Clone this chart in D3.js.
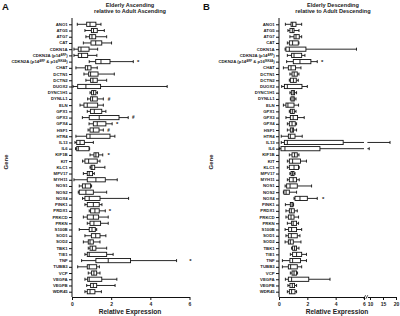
<!DOCTYPE html>
<html>
<head>
<meta charset="utf-8">
<script src="https://cdn.jsdelivr.net/npm/d3@7"></script>
<style>
  body { margin: 0; background: #fff; }
  svg { display: block; font-family: "Liberation Sans", Arial, sans-serif; }
  .axis path, .axis line { stroke: #111; stroke-width: 1; }
  .axis text { fill: #222; font-weight: bold; }
</style>
</head>
<body>
<div id="chart"></div>
<script>
// Gene list (top to bottom)
const genes = ["ANO1", "ATG5", "ATG7", "CAT", "CDKN1A", "CDKN2A (p14^{ARF})",
  "CDKN2A (p14^{ARF} & p16^{INK4A})", "CHAT", "DCTN1", "DCTN2", "DUOX2", "DYNC1H1",
  "DYNLL1", "ELN", "GPX1", "GPX3", "GPX4", "HSF1", "HTR4", "IL13", "IL6", "KIF1B",
  "KIT", "KLC1", "MPV17", "MYH11", "NOS1", "NOS2", "NOX4", "PINK1", "PRDX1", "PRKCD",
  "PRKN", "S100B", "SOD1", "SOD2", "TBK1", "TIE1", "TNF", "TUBB3", "VCP", "VEGFA",
  "VEGFB", "WDR45"];

// [min, q1, median, q3, max] per gene, Elderly vs Adult Ascending
const ascending = [
  [0.27, 0.75, 0.92, 1.22, 1.48], [0.66, 0.99, 1.10, 1.29, 1.65], [0.71, 0.90, 1.02, 1.21, 1.77],
  [0.58, 0.97, 1.21, 1.52, 2.02], [0.10, 0.32, 0.46, 0.87, 1.31], [0.10, 0.32, 0.49, 0.80, 1.27],
  [0.88, 1.21, 1.48, 1.94, 3.13], [0.20, 0.68, 0.80, 0.97, 1.29], [0.61, 0.85, 0.95, 1.33, 2.16],
  [0.71, 0.95, 1.07, 1.29, 1.77], [0.05, 0.29, 0.71, 1.46, 4.86], [0.92, 1.00, 1.10, 1.22, 1.30],
  [0.80, 0.95, 1.05, 1.29, 1.60], [0.41, 0.61, 0.78, 1.31, 1.60], [0.78, 0.94, 1.14, 1.52, 1.73],
  [0.53, 0.88, 1.39, 2.40, 2.87], [0.87, 1.09, 1.29, 1.73, 2.05], [0.82, 0.92, 1.09, 1.38, 1.60],
  [0.20, 0.75, 0.92, 1.94, 2.19], [0.15, 0.24, 0.41, 0.63, 1.09], [0.18, 0.24, 0.32, 0.87, 0.90],
  [0.92, 1.12, 1.22, 1.36, 1.57], [0.54, 0.66, 0.85, 1.29, 1.43], [0.92, 0.97, 1.02, 1.16, 1.68],
  [0.58, 0.78, 0.88, 1.05, 1.14], [0.10, 0.78, 1.22, 1.70, 2.31], [0.37, 0.53, 0.68, 0.95, 1.00],
  [0.32, 0.37, 0.71, 1.09, 1.77], [0.54, 0.66, 0.88, 1.43, 2.89], [0.66, 0.78, 1.09, 1.39, 1.53],
  [0.88, 0.95, 1.17, 1.39, 1.70], [0.58, 0.78, 1.09, 1.36, 1.85], [0.78, 0.92, 1.12, 1.46, 1.85],
  [0.37, 0.88, 1.02, 1.19, 1.26], [0.66, 0.99, 1.21, 1.43, 1.73], [0.58, 0.83, 0.92, 1.09, 1.43],
  [0.83, 0.92, 1.04, 1.22, 1.77], [0.66, 0.78, 0.88, 1.77, 2.10], [0.49, 1.22, 1.85, 2.99, 5.34],
  [0.29, 0.78, 0.88, 1.26, 1.40], [0.83, 1.00, 1.12, 1.26, 1.43], [0.66, 0.80, 0.88, 1.52, 2.29],
  [0.75, 0.95, 1.09, 1.26, 2.20], [0.66, 0.78, 0.92, 1.17, 1.50]
];

// [min, q1, median, q3, max] per gene, Elderly vs Adult Descending
const descending = [
  [0.45, 0.85, 0.96, 1.20, 1.60], [0.63, 0.77, 0.94, 1.06, 1.41], [0.77, 1.06, 1.20, 1.43, 1.60],
  [0.59, 0.73, 0.96, 1.36, 1.41], [0.43, 0.49, 0.73, 1.90, 5.47], [0.59, 0.89, 1.06, 1.60, 1.83],
  [0.54, 1.01, 1.48, 2.25, 2.70], [0.31, 0.66, 0.85, 1.17, 1.55], [0.77, 0.92, 1.07, 1.29, 1.41],
  [0.73, 0.80, 1.02, 1.22, 1.36], [0.19, 0.38, 0.59, 1.62, 2.00], [0.77, 0.87, 1.00, 1.10, 1.24],
  [0.80, 0.85, 0.99, 1.08, 1.20], [0.31, 0.49, 0.63, 1.06, 1.38], [0.73, 0.80, 0.94, 1.08, 1.20],
  [0.49, 0.80, 1.00, 1.31, 1.78], [0.59, 0.73, 0.92, 1.15, 1.24], [0.59, 0.80, 0.94, 1.03, 1.24],
  [0.16, 0.66, 0.80, 1.13, 1.64], [0.16, 0.38, 0.59, 4.53, 17.7], [0.02, 0.14, 0.42, 2.89, 9.7],
  [0.73, 0.92, 1.10, 1.29, 1.41], [0.59, 0.73, 0.96, 1.52, 1.94], [0.59, 0.73, 1.06, 1.38, 1.43],
  [0.77, 0.85, 0.96, 1.06, 1.13], [0.59, 0.73, 1.00, 1.24, 1.43], [0.43, 0.54, 0.78, 1.29, 2.30],
  [0.31, 0.35, 0.50, 0.73, 1.24], [1.06, 1.13, 1.48, 2.00, 2.70], [0.45, 0.80, 0.92, 0.99, 1.03],
  [0.49, 0.73, 0.87, 1.08, 1.29], [0.49, 0.66, 0.85, 1.06, 1.38], [0.59, 0.89, 1.00, 1.24, 1.38],
  [0.43, 0.68, 0.89, 1.24, 1.60], [0.49, 0.66, 0.87, 1.29, 1.48], [0.43, 0.66, 0.80, 1.01, 1.55],
  [0.89, 0.96, 1.10, 1.24, 1.41], [0.80, 0.96, 1.24, 1.60, 1.94], [0.24, 0.77, 0.96, 1.52, 1.94],
  [0.24, 0.66, 0.82, 1.29, 1.60], [0.80, 0.92, 1.06, 1.24, 1.31], [0.45, 0.66, 0.89, 2.10, 3.60],
  [0.63, 0.77, 0.94, 1.10, 1.24], [0.59, 0.73, 0.89, 1.13, 1.24]
];

// significance marks: [gene index, symbol, x value]
const ascMarks = [[6, "*", 3.38], [12, "#", 1.89], [15, "#", 3.13], [16, "*", 2.31],
  [17, "#", 1.87], [21, "*", 1.87], [30, "*", 1.94], [38, "*", 6.05]];
const descMarks = [[6, "*", 3.05], [28, "*", 3.12]];

const ascTicks = [0, 2, 4, 6];
const descTicksLow = [0, 2, 4, 6];
const descTicksHigh = [10, 15, 20];

const W = 400, H = 316;
const svg = d3.select("#chart").append("svg").attr("width", W).attr("height", H);

const y = d3.scalePoint().domain(d3.range(genes.length)).range([24.3, 291.7]);
const axisY = 297;
const boxH = 4.2, capH = 3;

// panel A scale
const xA = d3.scaleLinear().domain([0, 6]).range([72, 189.5]);
// panel B broken scale
const xB1 = d3.scaleLinear().domain([0, 6]).range([279, 364]);
const xB2 = d3.scaleLinear().domain([9, 20]).range([367.4, 396]);
const xB = v => v <= 6 ? xB1(v) : xB2(Math.max(v, 9));

function geneLabel(sel, label) {
  const parts = label.split(/(\^\{[^}]*\})/).filter(p => p.length);
  parts.forEach(p => {
    if (p.startsWith("^{")) {
      sel.append("tspan").attr("baseline-shift", "40%").attr("font-size", 2.8)
        .text(p.slice(2, -1));
    } else {
      sel.append("tspan").text(p);
    }
  });
}

function panel(opts) {
  const g = svg.append("g");
  const { x, x0, data, marks, broken } = opts;

  // letter + title
  svg.append("text").attr("x", opts.letterX).attr("y", 10)
    .attr("font-size", 9.5).attr("font-weight", "bold").attr("fill", "#111").text(opts.letter);
  opts.title.forEach((t, i) => {
    svg.append("text").attr("x", opts.titleX).attr("y", 6.5 + i * 6.8)
      .attr("text-anchor", "middle").attr("font-size", 5.6).attr("font-weight", "bold")
      .attr("fill", "#222").text(t);
  });

  // y axis
  const yAxis = g.append("g").attr("class", "axis")
    .attr("transform", `translate(${x0},0)`)
    .call(d3.axisLeft(y).tickSize(3).tickSizeOuter(0).tickFormat(""));
  yAxis.select(".domain").attr("d", `M0,18V${axisY}`);
  genes.forEach((gname, i) => {
    const t = g.append("text").attr("x", x0 - 4.3).attr("y", y(i) + 1.5)
      .attr("text-anchor", "end").attr("font-size", 4.3).attr("font-weight", "bold")
      .attr("fill", "#222");
    geneLabel(t, gname);
  });
  svg.append("text")
    .attr("transform", `translate(${opts.geneX},162) rotate(-90)`)
    .attr("text-anchor", "middle").attr("font-size", 6).attr("font-weight", "bold")
    .attr("fill", "#222").text("Gene");

  // x axis
  const fmt = d3.format("d");
  if (!broken) {
    g.append("g").attr("class", "axis").attr("transform", `translate(0,${axisY})`)
      .call(d3.axisBottom(x).tickValues(ascTicks).tickFormat(fmt).tickSize(3).tickSizeOuter(0))
      .selectAll("text").attr("font-size", 5).attr("dy", "0.6em");
  } else {
    [[xB1, descTicksLow], [xB2, descTicksHigh]].forEach(([s, tv]) => {
      g.append("g").attr("class", "axis").attr("transform", `translate(0,${axisY})`)
        .call(d3.axisBottom(s).tickValues(tv).tickFormat(fmt).tickSize(3).tickSizeOuter(0))
        .selectAll("text").attr("font-size", 5).attr("dy", "0.6em");
    });
    // break marks
    [xB1(6) + 0.6, xB2(9) - 0.6].forEach(bx => {
      g.append("line").attr("x1", bx - 1).attr("x2", bx + 1)
        .attr("y1", axisY + 1.8).attr("y2", axisY - 1.8)
        .attr("stroke", "#111").attr("stroke-width", 0.8);
    });
  }
  svg.append("text").attr("x", opts.xLabelX).attr("y", 313.5)
    .attr("text-anchor", "middle").attr("font-size", 6.6).attr("font-weight", "bold")
    .attr("fill", "#222").text("Relative Expression");

  // whisker helper (handles the axis break)
  function hline(a, b, yy) {
    const segs = (broken && a < 6 && b > 6) ? [[a, 6], [9, b]] : [[a, b]];
    segs.forEach(([s, e]) => {
      g.append("line").attr("x1", x(s)).attr("x2", x(e)).attr("y1", yy).attr("y2", yy)
        .attr("stroke", "#111").attr("stroke-width", 0.9);
    });
  }

  data.forEach((d, i) => {
    const [mn, q1, md, q3, mx] = d;
    const cy = y(i);
    hline(mn, q1, cy);
    hline(q3, mx, cy);
    [mn, mx].forEach(v => {
      g.append("line").attr("x1", x(v)).attr("x2", x(v))
        .attr("y1", cy - capH / 2).attr("y2", cy + capH / 2)
        .attr("stroke", "#111").attr("stroke-width", 0.9);
    });
    g.append("rect").attr("x", x(q1)).attr("y", cy - boxH / 2)
      .attr("width", x(q3) - x(q1)).attr("height", boxH)
      .attr("fill", "#fff").attr("stroke", "#111").attr("stroke-width", 0.9);
    g.append("line").attr("x1", x(md)).attr("x2", x(md))
      .attr("y1", cy - boxH / 2).attr("y2", cy + boxH / 2)
      .attr("stroke", "#111").attr("stroke-width", 0.9);
  });

  marks.forEach(([i, sym, v]) => {
    g.append("text").attr("x", x(v)).attr("y", y(i) + (sym === "*" ? 2.6 : 1.8))
      .attr("text-anchor", "middle").attr("font-size", sym === "*" ? 6 : 4.6)
      .attr("font-weight", "bold").attr("fill", "#222").text(sym);
  });
}

panel({ letter: "A", letterX: 2, title: ["Elderly Ascending", "relative to Adult Ascending"],
  titleX: 130, x: xA, x0: 72, data: ascending, marks: ascMarks, broken: false,
  geneX: 8, xLabelX: 130 });
panel({ letter: "B", letterX: 203, title: ["Elderly Descending", "relative to Adult Descending"],
  titleX: 333, x: xB, x0: 279, data: descending, marks: descMarks, broken: true,
  geneX: 213, xLabelX: 337 });
</script>
</body>
</html>
